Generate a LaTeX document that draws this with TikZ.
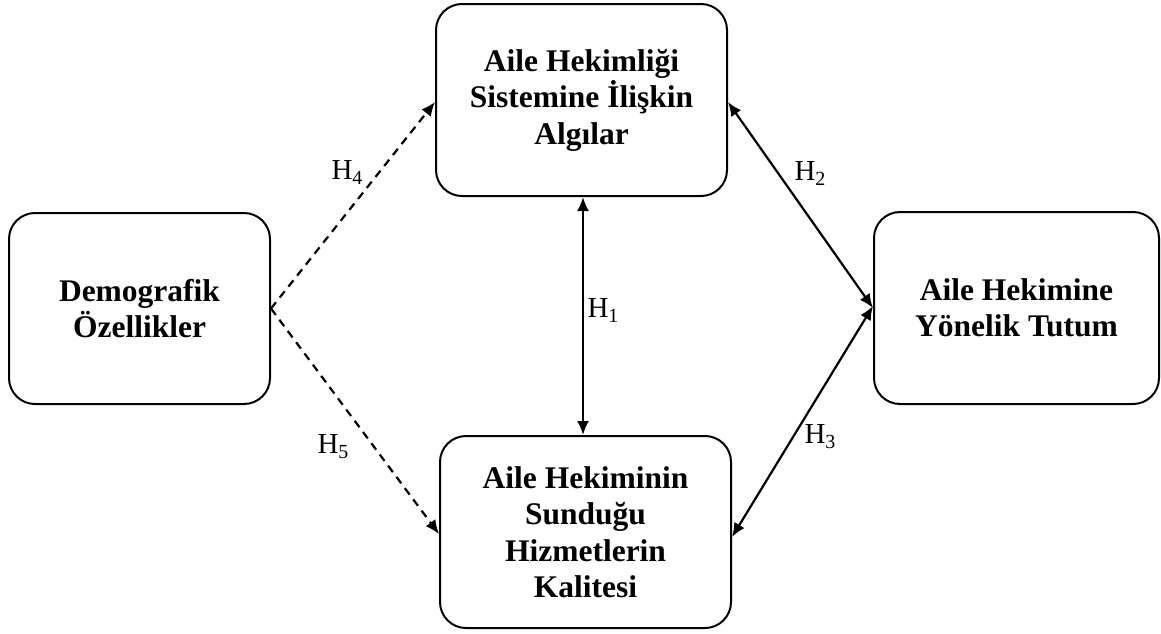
\documentclass[tikz,border=0pt]{standalone}
\usepackage{fontspec}
\setmainfont{Liberation Serif}
\usetikzlibrary{arrows.meta}
\newcommand\Hlab[1]{H\raisebox{-5pt}{\fontsize{20}{20}\selectfont #1}}
\begin{document}
\begin{tikzpicture}[x=1pt,y=-1pt,
  box/.style={draw,line width=2pt,rounded corners=26pt,align=center,
    font=\fontsize{31.5}{36.5}\selectfont\bfseries,inner sep=0pt},
  link/.style={line width=2.2pt,-{Latex[length=14pt,width=12pt]}},
  dlink/.style={line width=2.2pt,{Latex[length=14pt,width=12pt]}-{Latex[length=14pt,width=12pt]}},
  dashlink/.style={link,dash pattern=on 8pt off 6pt},
  lab/.style={font=\fontsize{29}{30}\selectfont,inner sep=0pt}]
\useasboundingbox (0,0) rectangle (1161,633);
\node[box,minimum width=261pt,minimum height=191pt] (L) at (139.5,308.5) {Demografik\\Özellikler};
\node[box,minimum width=291pt,minimum height=192pt] (T) at (581.5,100) {Aile Hekimliği\\Sistemine İlişkin\\Algılar};
\node[box,minimum width=291pt,minimum height=192pt] (B) at (585.5,532) {Aile Hekiminin\\Sunduğu\\Hizmetlerin\\Kalitesi};
\node[box,minimum width=285pt,minimum height=192pt] (R) at (1016.5,308) {Aile Hekimine\\Yönelik Tutum};
\coordinate (h1) at (583,0);
\draw[dashlink] (L.east) -- ([yshift=-2pt]T.west);
\draw[dashlink] (L.east) -- ([yshift=-2pt]B.west);
\draw[dlink] (T.south -| h1) -- (B.north -| h1);
\draw[dlink] ([yshift=-2pt]T.east) -- (R.west);
\draw[dlink] ([yshift=-5pt]B.east) -- ([yshift=2pt]R.west);
\node[lab] (l1) at (603,310) {\Hlab{1}};
\node[lab] (l2) at (810,173) {\Hlab{2}};
\node[lab] (l3) at (820,437) {\Hlab{3}};
\node[lab] (l4) at (347,172) {\Hlab{4}};
\node[lab] (l5) at (333,447) {\Hlab{5}};
\end{tikzpicture}
\end{document}
